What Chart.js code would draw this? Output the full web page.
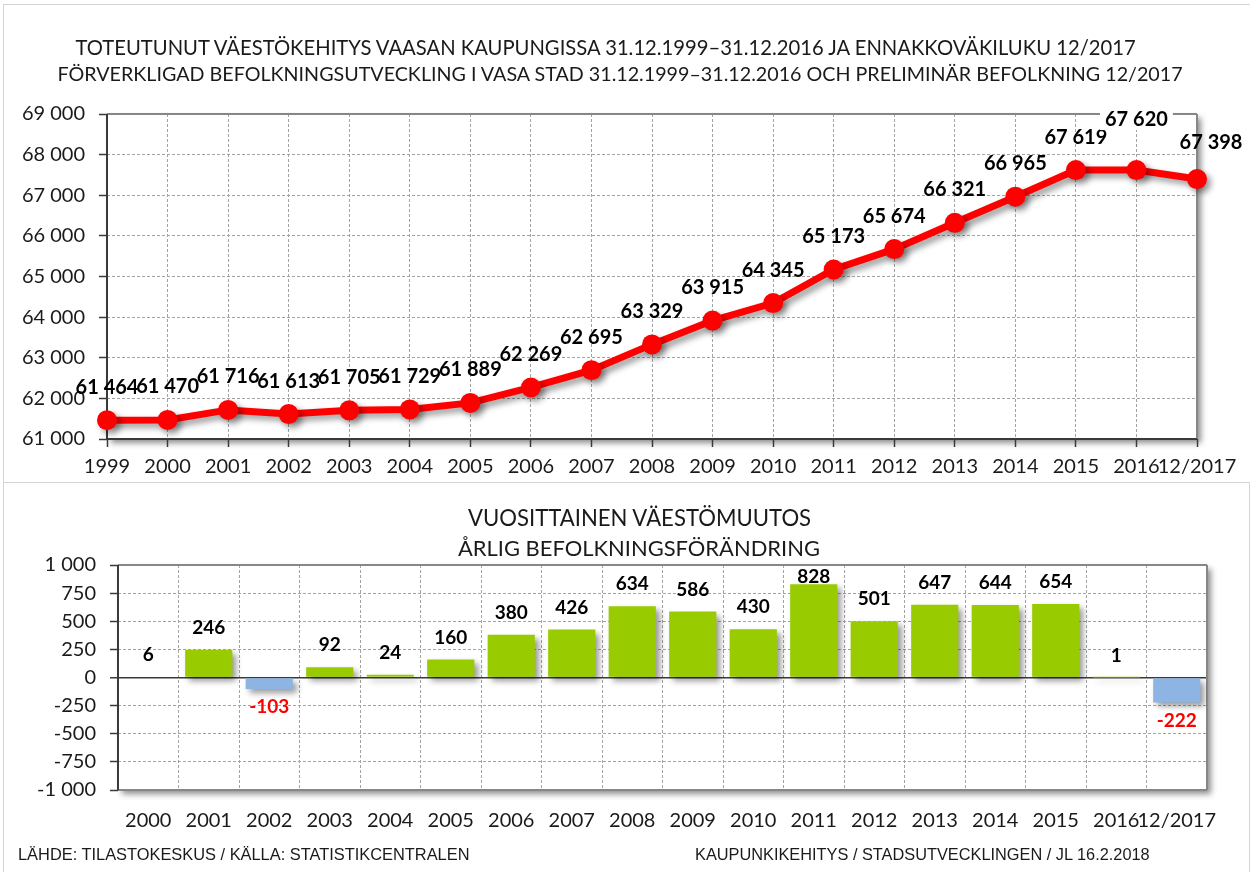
<!DOCTYPE html>
<html>
<head>
<meta charset="utf-8">
<script src="https://cdn.jsdelivr.net/npm/chart.js@4.4.0/dist/chart.umd.min.js"></script>
<style>
body { margin: 0; background: #fff; width: 1250px; height: 872px; overflow: hidden; position: relative; }
.box { position: absolute; border: 1px solid #d4d4d4; }
.wrap { position: absolute; left: 0; width: 1250px; }
.txt { position: absolute; white-space: nowrap; color: #1a1a1a; line-height: 1; z-index: 5; }
</style>
</head>
<body>
<div class="box" style="left:3px; top:4px; width:1260px; height:477px"></div>
<div class="box" style="left:3px; top:482px; width:1245px; height:400px"></div>

<div class="wrap" style="top:0; height:482px"><canvas id="pop-chart"></canvas></div>
<div class="wrap" style="top:482px; height:390px"><canvas id="change-chart"></canvas></div>

<div class="txt" id="title1a"></div>
<div class="txt" id="title1b"></div>
<div class="txt" id="title2a"></div>
<div class="txt" id="title2b"></div>
<div class="txt" id="source-left"></div>
<div class="txt" id="source-right"></div>

<script>
/* Population at the end of each year */
const popYears = ['1999', '2000', '2001', '2002', '2003', '2004', '2005', '2006', '2007', '2008',
                  '2009', '2010', '2011', '2012', '2013', '2014', '2015', '2016', '12/2017'];
const population = [61464, 61470, 61716, 61613, 61705, 61729, 61889, 62269, 62695, 63329,
                    63915, 64345, 65173, 65674, 66321, 66965, 67619, 67620, 67398];

/* Yearly change */
const changeYears = ['2000', '2001', '2002', '2003', '2004', '2005', '2006', '2007', '2008',
                     '2009', '2010', '2011', '2012', '2013', '2014', '2015', '2016', '12/2017'];
const populationChange = [6, 246, -103, 92, 24, 160, 380, 426, 634, 586, 430, 828, 501, 647, 644, 654, 1, -222];

const popTicks = {min: 61000, max: 69000, step: 1000};
const changeTicks = {min: -1000, max: 1000, step: 250};

function fmt(v){
    // 61464 -> "61 464"
    const s = String(Math.abs(v)).replace(/\B(?=(\d{3})+(?!\d))/g, ' ');
    return (v < 0 ? '-' : '') + s;
}

function placeText(id, text, font, cx, cy, w){
    /* Puts a text line centred on (cx, cy) and sizes the font so it is w pixels wide */
    const el = document.getElementById(id);
    const m = document.createElement('canvas').getContext('2d');
    m.font = font.replace('SIZE', '100px');
    const size = 100 * w / m.measureText(text).width;
    el.textContent = text;
    el.style.font = font.replace('SIZE', size.toFixed(2) + 'px');
    el.style.left = (cx - w / 2) + 'px';
    el.style.top = (cy - size / 2) + 'px';
}

placeText('title1a', 'TOTEUTUNUT VÄESTÖKEHITYS VAASAN KAUPUNGISSA 31.12.1999–31.12.2016 JA ENNAKKOVÄKILUKU 12/2017', 'SIZE Lato', 608, 45, 1065);
placeText('title1b', 'FÖRVERKLIGAD BEFOLKNINGSUTVECKLING I VASA STAD 31.12.1999–31.12.2016 OCH PRELIMINÄR BEFOLKNING 12/2017', 'SIZE Lato', 621, 72, 1127);
placeText('title2a', 'VUOSITTAINEN VÄESTÖMUUTOS', 'SIZE Lato', 640, 515, 344);
placeText('title2b', 'ÅRLIG BEFOLKNINGSFÖRÄNDRING', 'SIZE Lato', 639, 545, 362);
placeText('source-left', 'LÄHDE: TILASTOKESKUS / KÄLLA: STATISTIKCENTRALEN', 'SIZE "Liberation Sans"', 244, 853, 452);
placeText('source-right', 'KAUPUNKIKEHITYS  / STADSUTVECKLINGEN / JL 16.2.2018', 'SIZE "Liberation Sans"', 925, 853, 460);

Chart.defaults.font.family = 'Lato';
Chart.defaults.color = '#1a1a1a';

const plotFrame = {
    id: 'plotFrame',
    beforeDraw(chart){
        // white plot area with a soft drop shadow
        const {ctx, chartArea: a} = chart;
        ctx.save();
        ctx.shadowColor = 'rgba(0,0,0,0.45)';
        ctx.shadowBlur = 6;
        ctx.shadowOffsetX = 4;
        ctx.shadowOffsetY = 4;
        ctx.fillStyle = '#fff';
        ctx.fillRect(a.left, a.top, a.right - a.left, a.bottom - a.top);
        ctx.restore();
    },
    beforeDatasetsDraw(chart, args, opts){
        const {ctx, chartArea: a} = chart;
        const edges = {
            top: [a.left, a.top, a.right, a.top],
            right: [a.right, a.top, a.right, a.bottom],
            bottom: [a.left, a.bottom, a.right, a.bottom],
            left: [a.left, a.top, a.left, a.bottom]
        };
        ctx.save();
        ctx.lineWidth = 2;
        for(const k in edges){
            const e = edges[k];
            ctx.strokeStyle = opts.dark.includes(k) ? '#3a3a3a' : '#878787';
            ctx.beginPath();
            ctx.moveTo(e[0], e[1]);
            ctx.lineTo(e[2], e[3]);
            ctx.stroke();
        }
        ctx.restore();

        // shadow for the marks, removed again in afterDatasetsDraw
        ctx.save();
        ctx.shadowColor = 'rgba(0,0,0,0.4)';
        ctx.shadowBlur = 6;
        ctx.shadowOffsetX = 4;
        ctx.shadowOffsetY = 4;
    },
    afterDatasetsDraw(chart){
        chart.ctx.restore();
    }
};

const valueLabels = {
    id: 'valueLabels',
    afterDraw(chart, args, opts){
        const ctx = chart.ctx;
        const meta = chart.getDatasetMeta(0);
        const data = chart.data.datasets[0].data;
        ctx.save();
        ctx.font = 'bold ' + opts.size + 'px Lato';
        ctx.textAlign = 'center';
        ctx.textBaseline = 'middle';
        meta.data.forEach((el, i) => {
            const v = data[i];
            const t = (opts.tweaks && opts.tweaks[i]) || {};
            const x = el.x + (t.dx || 0);
            let y = (v >= 0 ? el.y - opts.above : el.y + opts.below) + (t.dy || 0);
            if(opts.keepInside){
                // labels that would leave the plot area are pushed inside, like Excel does
                y = Math.max(y, chart.chartArea.top + 12);
            }
            const text = fmt(v);
            if(t.bg){
                const w = ctx.measureText(text).width;
                ctx.fillStyle = '#fff';
                ctx.fillRect(x - w / 2 - 5, y - 11, w + 10, 22);
            }
            ctx.fillStyle = v < 0 ? '#ff0000' : '#000';
            ctx.fillText(text, x, y);
        });
        ctx.restore();
    }
};

const gridColor = '#a3a3a3';

new Chart(document.getElementById('pop-chart'), {
    type: 'line',
    data: {
        labels: popYears,
        datasets: [{
            data: population,
            borderColor: '#ff0000',
            backgroundColor: '#ff0000',
            borderWidth: 7,
            pointRadius: 10,
            pointHoverRadius: 10,
            pointBorderWidth: 0,
            pointBackgroundColor: '#ff0000',
            tension: 0,
            clip: false
        }]
    },
    options: {
        responsive: true,
        maintainAspectRatio: false,
        animation: false,
        events: [],
        layout: {padding: {left: 0, right: 53, top: 114, bottom: 0}},
        plugins: {
            legend: {display: false},
            tooltip: {enabled: false},
            plotFrame: {dark: ['left', 'bottom']},
            valueLabels: {size: 20, above: 33, below: 33, tweaks: {17: {dy: -18, bg: true}, 18: {dx: 14, dy: -4}}}
        },
        scales: {
            x: {
                offset: false,
                grid: {color: gridColor, lineWidth: 1, tickLength: 8, tickColor: '#3a3a3a', tickWidth: 1.5, tickBorderDash: []},
                border: {display: false, dash: [3, 2]},
                ticks: {padding: 8, font: {size: 20}, maxRotation: 0, autoSkip: false},
                afterFit(s){ s.height = 43; }
            },
            y: {
                min: popTicks.min,
                max: popTicks.max,
                grid: {color: gridColor, lineWidth: 1, tickLength: 8, tickColor: '#3a3a3a', tickWidth: 1.5, tickBorderDash: []},
                border: {display: false, dash: [3, 2]},
                ticks: {stepSize: popTicks.step, padding: 14, font: {size: 20}, callback: v => fmt(v)},
                afterFit(s){ s.width = 107; }
            }
        }
    },
    plugins: [plotFrame, valueLabels]
});

new Chart(document.getElementById('change-chart'), {
    type: 'bar',
    data: {
        labels: changeYears,
        datasets: [{
            data: populationChange,
            backgroundColor: populationChange.map(v => v < 0 ? '#8db4e2' : '#99cc00'),
            borderWidth: 0,
            barPercentage: 0.78,
            categoryPercentage: 1
        }]
    },
    options: {
        responsive: true,
        maintainAspectRatio: false,
        animation: false,
        events: [],
        layout: {padding: {left: 0, right: 43, top: 83, bottom: 0}},
        plugins: {
            legend: {display: false},
            tooltip: {enabled: false},
            plotFrame: {dark: ['left']},
            valueLabels: {size: 19, above: 22, below: 18, keepInside: true}
        },
        scales: {
            x: {
                grid: {color: gridColor, lineWidth: 1, drawTicks: false},
                border: {display: false, dash: [3, 2]},
                ticks: {padding: 19, font: {size: 20}, maxRotation: 0, autoSkip: false},
                afterFit(s){ s.height = 82; }
            },
            y: {
                min: changeTicks.min,
                max: changeTicks.max,
                grid: {
                    color: c => c.tick && c.tick.value === 0 ? '#3a3a3a' : gridColor,
                    lineWidth: c => c.tick && c.tick.value === 0 ? 1.5 : 1,
                    tickLength: 8, tickColor: '#3a3a3a', tickWidth: 1.5, tickBorderDash: []
                },
                border: {display: false, dash: c => c.tick && c.tick.value === 0 ? [] : [3, 2]},
                ticks: {stepSize: changeTicks.step, padding: 14, font: {size: 20}, callback: v => fmt(v)},
                afterFit(s){ s.width = 118; }
            }
        }
    },
    plugins: [plotFrame, valueLabels]
});
</script>
</body>
</html>
